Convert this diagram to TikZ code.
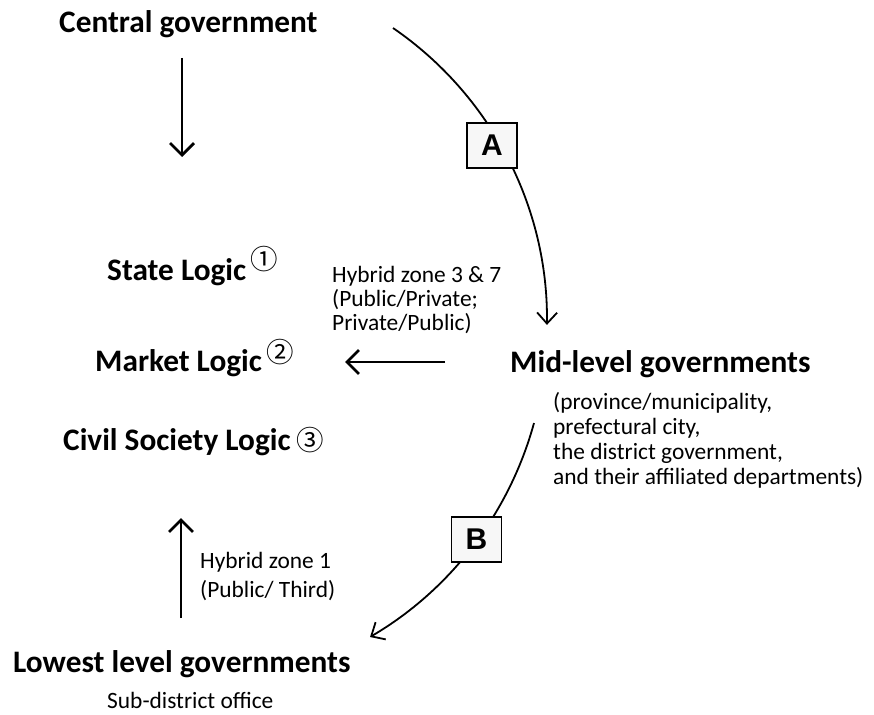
\documentclass[tikz,border=0pt]{standalone}
\usepackage{fontspec}
\setmainfont{Carlito}
\newfontfamily\circfont{Noto Sans CJK JP}
\newfontfamily\boxfont{Liberation Sans}
\usetikzlibrary{arrows.meta}
\newcommand{\linesat}[2]{\vtop{\baselineskip=#1pt\lineskiplimit=-100pt\lineskip=0pt #2}}
\begin{document}
\begin{tikzpicture}[x=1pt,y=-1pt,
  big/.style={font=\fontsize{31.3}{37}\selectfont\bfseries, inner sep=0pt, anchor=base west},
  small/.style={font=\fontsize{23.4}{25}\selectfont, inner sep=0pt, anchor=base west},
  circ/.style={font=\circfont\fontsize{27.5}{30}\selectfont, inner sep=0pt, anchor=center},
  lab/.style={draw, line width=1.3pt, fill=white!97!black, minimum width=50pt, minimum height=45pt, inner sep=0pt, font=\boxfont\bfseries\fontsize{30}{32}\selectfont},
  sarrow/.style={line width=2.8pt, -{Straight Barb[length=12pt,width=24pt]}},
  carrow/.style={line width=1.8pt, -{Straight Barb[length=11pt,width=20pt]}}]
\useasboundingbox (0,0) rectangle (874,714);

% texts
\node[big] (cg) at (59,33) {Central government};
\node[big] (sl) at (107,280) {State Logic};
\node[big] (ml) at (95,371) {Market Logic};
\node[big] (csl) at (63,450) {Civil Society Logic};
\node[big] (mlg) at (510,372) {Mid-level governments};
\node[big] (llg) at (13,672) {Lowest level governments};
\node[small] (sdo) at (107,708) {Sub-district office};
\node[circ] (c1) at (264,259) {①};
\node[circ] (c2) at (280.5,352) {②};
\node[circ] (c3) at (310,440) {③};
\node[small] (hz37) at (332,282) {\linesat{24}{\hbox{Hybrid zone 3 \& 7}\hbox{(Public/Private;}\hbox{Private/Public)}}};
\node[small] (hz1) at (200,568) {\linesat{29}{\hbox{Hybrid zone 1}\hbox{(Public/ Third)}}};
\node[small] (mlgd) at (553,409) {\linesat{25}{\hbox{(province/municipality,}\hbox{prefectural city,}\hbox{the district government,}\hbox{and their affiliated departments)}}};

% straight arrows
\coordinate (d1) at (182,58);
\coordinate (d2) at (182,157);
\draw[sarrow] (d1) -- (d2);
\coordinate (l1) at (445,362);
\coordinate (l2) at (345,362);
\draw[sarrow] (l1) -- (l2);
\coordinate (u1) at (181,618);
\coordinate (u2) at (181,518);
\draw[sarrow] (u1) -- (u2);

% curved arrows
\coordinate (aS) at (393,28);
\draw[carrow] (aS) arc[start angle=-55.55, end angle=0.74, radius=354.5];
\coordinate (bS) at (534,423);
\draw[carrow] (bS) arc[start angle=15.32, end angle=59.6, radius=357.7];

\node[lab] (A) at (492,145.5) {A};
\node[lab] (B) at (476.5,539.5) {B};
\end{tikzpicture}
\end{document}
